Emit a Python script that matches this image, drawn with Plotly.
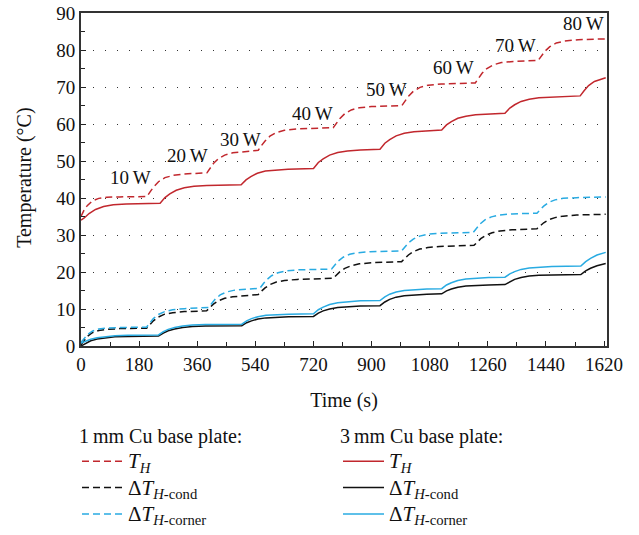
import plotly.graph_objects as go

# ---- 1 mm Cu base plate (dashed) ----
t_th_1mm = [0, 10, 20, 35, 55, 80, 120, 204,
            215, 225, 240, 260, 285, 320, 390,
            400, 410, 425, 445, 470, 505, 549,
            560, 570, 585, 605, 630, 670, 781,
            792, 802, 817, 837, 862, 900, 994,
            1005, 1015, 1030, 1050, 1075, 1115, 1221,
            1232, 1242, 1257, 1277, 1302, 1340, 1416,
            1427, 1437, 1452, 1472, 1497, 1540, 1625]
th_1mm = [35.0, 36.8, 38.0, 39.2, 39.9, 40.2, 40.3, 40.4,
          41.8, 43.0, 44.4, 45.5, 46.1, 46.5, 46.8,
          48.1, 49.3, 50.6, 51.6, 52.2, 52.6, 52.9,
          54.3, 55.4, 56.7, 57.7, 58.3, 58.7, 59.0,
          60.4, 61.5, 62.8, 63.8, 64.4, 64.7, 65.0,
          66.4, 67.6, 68.9, 69.9, 70.5, 70.8, 71.1,
          72.5, 73.7, 75.0, 76.0, 76.6, 76.9, 77.2,
          78.6, 79.7, 80.9, 81.9, 82.4, 82.8, 83.0]

t_cond_1mm = [0, 10, 20, 35, 55, 80, 120, 203,
              214, 224, 239, 259, 284, 320, 389,
              400, 410, 425, 445, 470, 505, 549,
              560, 570, 585, 605, 630, 670, 781,
              792, 802, 817, 837, 862, 900, 993,
              1004, 1014, 1029, 1049, 1074, 1110, 1217,
              1228, 1238, 1253, 1273, 1298, 1335, 1412,
              1423, 1433, 1448, 1468, 1493, 1535, 1625]
cond_1mm = [0.3, 1.5, 2.6, 3.6, 4.2, 4.5, 4.7, 4.8,
            5.9, 6.8, 7.8, 8.6, 9.0, 9.3, 9.5,
            10.5, 11.3, 12.2, 12.9, 13.3, 13.6, 13.9,
            14.9, 15.7, 16.6, 17.3, 17.7, 18.0, 18.3,
            19.3, 20.1, 21.0, 21.7, 22.2, 22.5, 22.8,
            23.8, 24.6, 25.5, 26.2, 26.6, 26.9, 27.2,
            28.2, 29.0, 29.9, 30.6, 31.1, 31.4, 31.7,
            32.6, 33.3, 34.1, 34.7, 35.1, 35.4, 35.6]

t_corner_1mm = [0, 10, 20, 35, 55, 80, 120, 203,
                214, 224, 239, 259, 284, 320, 395,
                406, 416, 431, 451, 476, 510, 554,
                565, 575, 590, 610, 635, 675, 776,
                787, 797, 812, 832, 857, 895, 993,
                1004, 1014, 1029, 1049, 1074, 1110, 1215,
                1226, 1236, 1251, 1271, 1296, 1335, 1412,
                1423, 1433, 1448, 1468, 1493, 1535, 1625]
corner_1mm = [1.0, 2.2, 3.1, 4.0, 4.6, 4.85, 5.0, 5.1,
              6.4, 7.4, 8.5, 9.3, 9.8, 10.1, 10.4,
              11.7, 12.7, 13.8, 14.6, 15.1, 15.4, 15.6,
              16.9, 17.9, 19.0, 19.8, 20.3, 20.6, 20.8,
              22.0, 23.0, 24.0, 24.8, 25.2, 25.5, 25.7,
              26.9, 27.9, 28.9, 29.7, 30.2, 30.5, 30.7,
              32.0, 33.0, 34.1, 34.9, 35.4, 35.7, 35.9,
              37.0, 37.8, 38.8, 39.5, 39.9, 40.1, 40.3]

# ---- 3 mm Cu base plate (solid) ----
t_th_3mm = [0, 10, 25, 45, 70, 100, 140, 245,
            260, 275, 295, 320, 350, 390, 496,
            511, 526, 546, 571, 601, 641, 720,
            735, 750, 770, 795, 825, 865, 926,
            941, 956, 976, 1001, 1031, 1071, 1117,
            1132, 1147, 1167, 1192, 1222, 1262, 1313,
            1328, 1343, 1363, 1388, 1418, 1458, 1546,
            1558, 1572, 1590, 1610, 1625]
th_3mm = [34.0, 34.6, 35.8, 36.9, 37.7, 38.2, 38.4, 38.6,
          40.1, 41.1, 42.1, 42.75, 43.15, 43.4, 43.6,
          44.9, 45.8, 46.7, 47.3, 47.6, 47.8, 48.0,
          49.6, 50.6, 51.6, 52.3, 52.7, 53.0, 53.2,
          54.8, 55.8, 56.8, 57.5, 57.9, 58.2, 58.4,
          59.75, 60.65, 61.55, 62.1, 62.5, 62.7, 62.9,
          64.3, 65.2, 66.1, 66.7, 67.1, 67.3, 67.6,
          69.0, 70.4, 71.5, 72.1, 72.5]

t_3mm = [0, 15, 30, 50, 75, 105, 145, 240,
         255, 270, 290, 315, 345, 385, 498,
         513, 528, 548, 573, 603, 643, 720,
         735, 750, 770, 795, 825, 865, 926,
         941, 956, 976, 1001, 1031, 1071, 1117,
         1132, 1147, 1167, 1192, 1222, 1262, 1313,
         1328, 1343, 1363, 1388, 1418, 1458, 1548,
         1563, 1578, 1598, 1625]
cond_3mm = [0.0, 0.8, 1.4, 1.9, 2.25, 2.5, 2.6, 2.7,
            3.5, 4.1, 4.6, 5.0, 5.25, 5.4, 5.5,
            6.3, 6.8, 7.3, 7.6, 7.8, 7.9, 8.0,
            8.9, 9.5, 10.0, 10.4, 10.65, 10.8, 10.9,
            11.9, 12.6, 13.2, 13.6, 13.85, 14.0, 14.1,
            14.9, 15.4, 15.9, 16.2, 16.4, 16.5, 16.6,
            17.4, 18.0, 18.5, 18.9, 19.1, 19.2, 19.3,
            20.3, 21.0, 21.7, 22.3]
corner_3mm = [0.8, 1.3, 1.8, 2.2, 2.55, 2.8, 2.9, 3.0,
              3.9, 4.5, 5.0, 5.4, 5.65, 5.8, 5.9,
              6.8, 7.4, 7.9, 8.3, 8.5, 8.6, 8.7,
              9.8, 10.5, 11.2, 11.7, 12.0, 12.2, 12.3,
              13.3, 14.0, 14.6, 15.0, 15.25, 15.4, 15.5,
              16.5, 17.1, 17.7, 18.1, 18.35, 18.5, 18.6,
              19.5, 20.1, 20.7, 21.1, 21.35, 21.5, 21.6,
              22.8, 23.7, 24.6, 25.3]

# ---- power step labels ----
power_labels = ["10\u2009W", "20\u2009W", "30\u2009W", "40\u2009W",
                "50\u2009W", "60\u2009W", "70\u2009W", "80\u2009W"]
label_t = [152, 330, 495, 718, 946, 1153, 1347, 1557]
label_y = [45.6, 51.5, 55.8, 62.9, 69.3, 75.4, 81.3, 87.1]

x_ticks = list(range(0, 1621, 180))
y_ticks = list(range(0, 91, 10))

RED = "#c1272d"
BLUE = "#29abe2"
BLACK = "#111111"
FONT = "Liberation Serif"
DASH = "7px,4px"
W, H = 639, 535
M_L, M_R, M_T, M_B = 81, 32, 13, 189


def legend_label(html):
    # larger glyphs inside a legend row whose height follows the legend font size
    return f'<span style="font-size:21px">{html}</span>'


name_th = legend_label("<i>T</i><sub><i>H</i></sub>")
name_cond = legend_label("Δ<i>T</i><sub><i>H</i>-cond</sub>")
name_corner = legend_label("Δ<i>T</i><sub><i>H</i>-corner</sub>")

fig = go.Figure()

series_1mm = [(t_th_1mm, th_1mm, RED, name_th),
              (t_cond_1mm, cond_1mm, BLACK, name_cond),
              (t_corner_1mm, corner_1mm, BLUE, name_corner)]
series_3mm = [(t_th_3mm, th_3mm, RED, name_th),
              (t_3mm, cond_3mm, BLACK, name_cond),
              (t_3mm, corner_3mm, BLUE, name_corner)]

for i, (tx, vy, col, nm) in enumerate(series_1mm):
    fig.add_trace(go.Scatter(x=tx, y=vy, mode="lines", name=nm,
                             line=dict(color=col, width=1.5, dash=DASH),
                             legend="legend", legendgroup=f"a{i}"))
for i, (tx, vy, col, nm) in enumerate(series_3mm):
    fig.add_trace(go.Scatter(x=tx, y=vy, mode="lines", name=nm,
                             line=dict(color=col, width=1.5),
                             legend="legend2", legendgroup=f"b{i}"))

for txt, tx, ty in zip(power_labels, label_t, label_y):
    fig.add_annotation(x=tx, y=ty, text=txt, showarrow=False,
                       font=dict(family=FONT, size=19, color="#111"))

# vertical axis title, set beside the tick labels
plot_w = W - M_L - M_R
fig.add_annotation(xref="paper", yref="paper", x=(25 - M_L) / plot_w, y=0.505,
                   text="Temperature (°C)", textangle=-90, showarrow=False,
                   xanchor="center", yanchor="middle",
                   font=dict(family=FONT, size=20, color="#111"))

legend_common = dict(
    bgcolor="rgba(0,0,0,0)", borderwidth=0, xanchor="left", yanchor="top",
    xref="container", yref="container",
    font=dict(family=FONT, size=18, color="#111"),
    title_font=dict(family=FONT, size=20, color="#111"),
    tracegroupgap=0, itemwidth=41,
)

fig.update_layout(
    width=W, height=H,
    margin=dict(l=M_L, r=M_R, t=M_T, b=M_B, autoexpand=False),
    plot_bgcolor="white", paper_bgcolor="white",
    font=dict(family=FONT, size=19, color="#111"),
    showlegend=True,
    legend=dict(x=77 / W, y=1 - 417 / H,
                title_text="1\u2009mm Cu base plate:", **legend_common),
    legend2=dict(x=338 / W, y=1 - 417 / H,
                 title_text="3\u2009mm Cu base plate:", **legend_common),
    xaxis=dict(
        range=[0, 1629], tickvals=x_ticks, ticks="inside", ticklen=5,
        tickwidth=1.2, tickcolor="#222",
        minor=dict(dtick=90, tick0=0, ticks="inside", ticklen=4, tickcolor="#222"),
        showline=True, linecolor="#333", linewidth=2, mirror=True,
        showgrid=False, zeroline=False,
        title=dict(text="Time (s)", font=dict(family=FONT, size=20), standoff=19),
        tickfont=dict(family=FONT, size=19, color="#111"),
    ),
    yaxis=dict(
        range=[0, 90], tickvals=y_ticks, ticks="inside", ticklen=5,
        tickwidth=1.2, tickcolor="#222",
        minor=dict(dtick=5, tick0=0, ticks="inside", ticklen=4, tickcolor="#222"),
        showline=True, linecolor="#333", linewidth=2, mirror=True,
        showgrid=True, gridcolor="#333", griddash="1px,11px", gridwidth=1,
        zeroline=False,
        tickfont=dict(family=FONT, size=19, color="#111"),
    ),
)

fig.write_html("out.html")
